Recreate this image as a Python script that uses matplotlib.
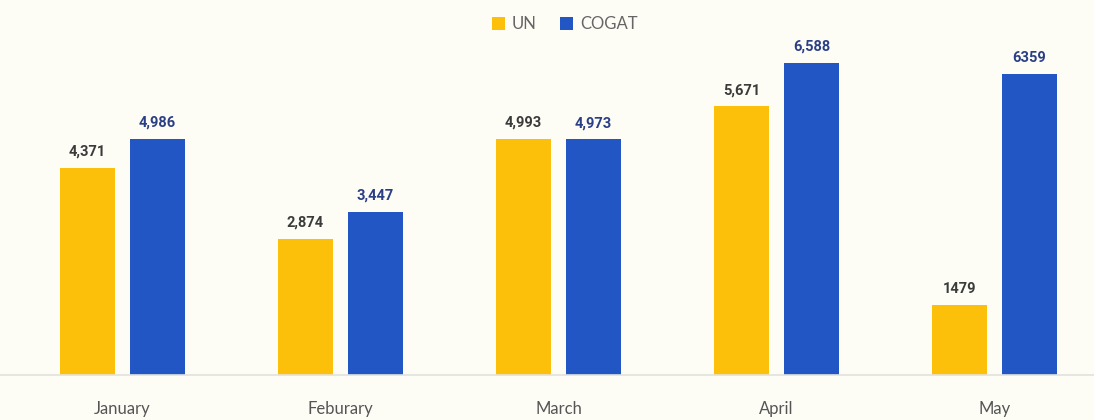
import numpy as np
import matplotlib.pyplot as plt

# data
months = ['January', 'Feburary', 'March', 'April', 'May']
un_trucks = [4371, 2874, 4993, 5671, 1479]
cogat_trucks = [4986, 3447, 4973, 6588, 6359]
un_labels = ['4,371', '2,874', '4,993', '5,671', '1479']
cogat_labels = ['4,986', '3,447', '4,973', '6,588', '6359']

bg = '#FDFDF6'
un_color = '#FCC00B'
cogat_color = '#2256C4'

fig = plt.figure(figsize=(10.94, 4.2), dpi=100, facecolor=bg)
ax = fig.add_axes([0, 45 / 420, 1, 375 / 420])
ax.set_facecolor(bg)

x = np.arange(len(months))
w = 55 / 218
off = 35 / 218

b1 = ax.bar(x - off, un_trucks, w, color=un_color, label='UN')
b2 = ax.bar(x + off, cogat_trucks, w, color=cogat_color, label='COGAT')

for rect, lab in zip(b1, un_labels):
    ax.annotate(lab, (rect.get_x() + rect.get_width() / 2, rect.get_height()),
                xytext=(0, 6.5), textcoords='offset points', ha='center', va='bottom',
                fontsize=10.5, fontweight='bold', color='#3b3b3b', family='Roboto')
for rect, lab in zip(b2, cogat_labels):
    ax.annotate(lab, (rect.get_x() + rect.get_width() / 2, rect.get_height()),
                xytext=(0, 6.5), textcoords='offset points', ha='center', va='bottom',
                fontsize=10.5, fontweight='bold', color='#2b3f86', family='Roboto')

ax.set_xlim(-122.5 / 218, (1094 - 122.5) / 218)
ax.set_ylim(0, 375 / (312 / 6588))
ax.set_xticks(x)
ax.set_xticklabels(months, fontsize=12, color='#555555', family='Lato')
ax.tick_params(axis='x', length=0, pad=19)
ax.set_yticks([])
for s in ['top', 'right', 'left']:
    ax.spines[s].set_visible(False)
ax.spines['bottom'].set_color('#e2e2dc')
ax.spines['bottom'].set_linewidth(1.2)

leg = fig.legend(handles=[b1, b2], loc='center', bbox_to_anchor=(0.516, 1 - 24 / 420),
                 ncol=2, frameon=False, handlelength=0.8, handleheight=0.8,
                 handletextpad=0.4, columnspacing=1.4,
                 prop={'family': 'Lato', 'size': 12})
for t in leg.get_texts():
    t.set_color('#666666')

fig.savefig('out.png', dpi=100, facecolor=bg)
